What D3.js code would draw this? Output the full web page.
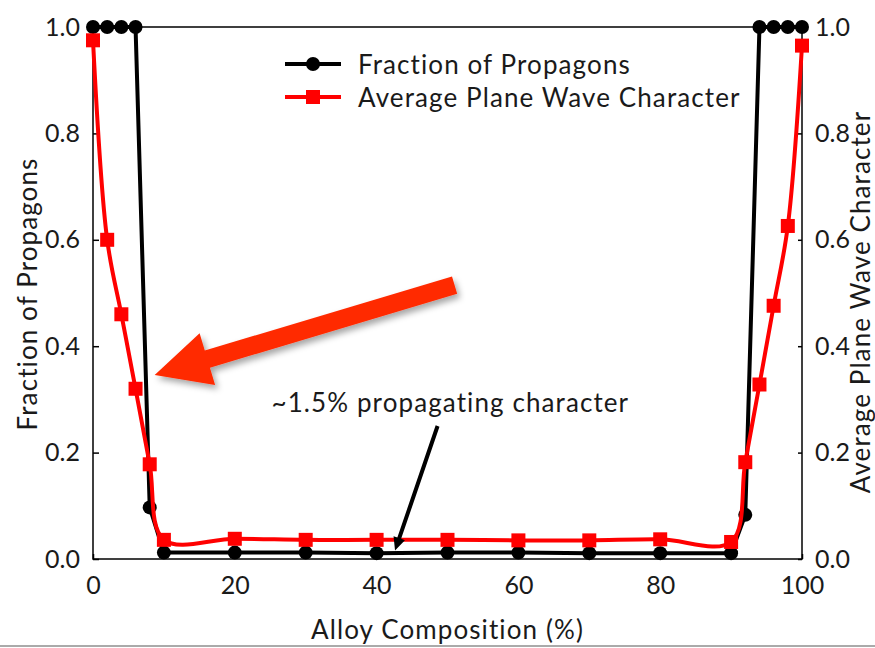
<!DOCTYPE html>
<meta charset="utf-8">
<script src="https://d3js.org/d3.v7.min.js"></script>
<style>
body { margin: 0; background: #fff; }
.tick text, .lbl { font-family: Lato, sans-serif; font-weight: 400; fill: #1a1a1a; }
.lbl { letter-spacing: 1.1px; }
</style>
<div id="chart"></div>
<script>
// data
const composition = [0, 2, 4, 6, 8, 10, 20, 30, 40, 50, 60, 70, 80, 90, 92, 94, 96, 98, 100];
const propagons = [1, 1, 1, 1, 0.097, 0.012, 0.012, 0.012, 0.011, 0.012, 0.012, 0.011, 0.011, 0.011, 0.083, 1, 1, 1, 1];
const planeWave = [0.975, 0.60, 0.46, 0.32, 0.178, 0.036, 0.038, 0.036, 0.036, 0.036, 0.035, 0.035, 0.037, 0.032, 0.182, 0.328, 0.476, 0.626, 0.965];
const xTicks = [0, 20, 40, 60, 80, 100];
const yTicks = [0, 0.2, 0.4, 0.6, 0.8, 1.0];

const W = 875, H = 648;
const margin = {top: 27, right: 73, bottom: 89, left: 93},
    width = W - margin.left - margin.right,
    height = H - margin.top - margin.bottom;

const root = d3.select("#chart").append("svg")
    .attr("width", W).attr("height", H);

const defs = root.append("defs");
defs.append("filter").attr("id", "shadow")
    .attr("x", "-20%").attr("y", "-20%").attr("width", "140%").attr("height", "160%")
  .append("feDropShadow")
    .attr("dx", 3).attr("dy", 4).attr("stdDeviation", 3)
    .attr("flood-color", "#000").attr("flood-opacity", 0.35);

// faint page border
root.append("line").attr("x1", 0).attr("x2", W).attr("y1", H - 2).attr("y2", H - 2)
    .attr("stroke", "#aaa").attr("stroke-width", 2);

const svg = root.append("g")
    .attr("transform", `translate(${margin.left},${margin.top})`);

const x = d3.scaleLinear().domain([0, 100]).range([0, width]);
const y = d3.scaleLinear().domain([0, 1]).range([height, 0]);

// frame
svg.append("rect").attr("width", width).attr("height", height)
    .attr("fill", "none").attr("stroke", "#000").attr("stroke-width", 1.5);

const fmt = d3.format(".1f");
const styleAxis = g => {
  g.select(".domain").remove();
  g.selectAll(".tick line").attr("stroke", "#000").attr("stroke-width", 1.5);
  g.selectAll(".tick text").style("font-size", "25px");
};

svg.append("g").call(d3.axisLeft(y).tickValues(yTicks).tickFormat(fmt).tickSize(-6).tickPadding(13))
    .call(styleAxis);
svg.append("g").attr("transform", `translate(${width},0)`)
    .call(d3.axisRight(y).tickValues(yTicks).tickFormat(fmt).tickSize(-4).tickPadding(13))
    .call(styleAxis);
svg.append("g").attr("transform", `translate(0,${height})`)
    .call(d3.axisBottom(x).tickValues(xTicks).tickSize(-5).tickPadding(17))
    .call(styleAxis);

// axis titles
svg.append("text").attr("class", "lbl")
    .attr("text-anchor", "middle").style("font-size", "26px")
    .attr("x", width / 2).attr("y", height + 80)
    .text("Alloy Composition (%)");
svg.append("text").attr("class", "lbl")
    .attr("text-anchor", "middle").style("font-size", "26px")
    .attr("transform", `translate(${-56},${height / 2 + 1}) rotate(-90)`)
    .text("Fraction of Propagons");
svg.append("text").attr("class", "lbl")
    .attr("text-anchor", "middle").style("font-size", "26px")
    .attr("transform", `translate(${width + 68},${height / 2 + 9}) rotate(-90)`)
    .text("Average Plane Wave Character");

// series
const blackPts = composition.map((c, i) => [c, propagons[i]]);
const redPts = composition.map((c, i) => [c, planeWave[i]]);

svg.append("path").datum(blackPts)
    .attr("fill", "none").attr("stroke", "#000").attr("stroke-width", 4)
    .attr("d", d3.line().x(d => x(d[0])).y(d => y(d[1])));
svg.selectAll(".dot").data(blackPts).join("circle")
    .attr("cx", d => x(d[0])).attr("cy", d => y(d[1])).attr("r", 7).attr("fill", "#000");

svg.append("path").datum(redPts)
    .attr("fill", "none").attr("stroke", "#f00").attr("stroke-width", 4)
    .attr("d", d3.line().x(d => x(d[0])).y(d => y(d[1])).curve(d3.curveCatmullRom.alpha(0.5)));
svg.selectAll(".sq").data(redPts).join("rect")
    .attr("x", d => x(d[0]) - 7).attr("y", d => y(d[1]) - 7)
    .attr("width", 14).attr("height", 14).attr("fill", "#f00");

// legend
const legend = [
  {name: "Fraction of Propagons", color: "#000", shape: "circle"},
  {name: "Average Plane Wave Character", color: "#f00", shape: "square"}
];
const lg = svg.append("g").attr("transform", "translate(192,37)");
legend.forEach((d, i) => {
  const row = lg.append("g").attr("transform", `translate(0,${i * 33})`);
  row.append("line").attr("x1", 0).attr("x2", 56).attr("stroke", d.color).attr("stroke-width", 4);
  if (d.shape === "circle") row.append("circle").attr("cx", 28).attr("r", 7).attr("fill", d.color);
  else row.append("rect").attr("x", 21).attr("y", -7).attr("width", 14).attr("height", 14).attr("fill", d.color);
  row.append("text").attr("class", "lbl").attr("x", 73).attr("y", 10)
      .style("font-size", "26px").text(d.name);
});

// big red call-out arrow (data coords)
function arrowPoly(t, p, shaft, headLen, headHalf) {
  const dx = p[0] - t[0], dy = p[1] - t[1], L = Math.hypot(dx, dy);
  const u = [dx / L, dy / L], n = [-u[1], u[0]];
  const b = [p[0] - u[0] * headLen, p[1] - u[1] * headLen];
  const at = (q, k) => [q[0] + n[0] * k, q[1] + n[1] * k];
  return [at(t, shaft), at(b, shaft), at(b, headHalf), p, at(b, -headHalf), at(b, -shaft), at(t, -shaft)];
}
const bigTail = [x(51.0), y(0.515)], bigTip = [x(8.7), y(0.346)];
svg.append("polygon")
    .attr("points", arrowPoly(bigTail, bigTip, 9, 55, 27).map(p => p.join(",")).join(" "))
    .attr("fill", "#ff2a00").attr("filter", "url(#shadow)");

// small black annotation arrow
const smTail = [x(48.6), y(0.25)], smTip = [x(42.6), y(0.016)];
svg.append("polygon")
    .attr("points", arrowPoly(smTail, smTip, 2, 13, 6).map(p => p.join(",")).join(" "))
    .attr("fill", "#000");
svg.append("text").attr("class", "lbl")
    .attr("x", x(50.4)).attr("y", y(0.276)).attr("text-anchor", "middle")
    .style("font-size", "26px").text("~1.5% propagating character");
</script>
